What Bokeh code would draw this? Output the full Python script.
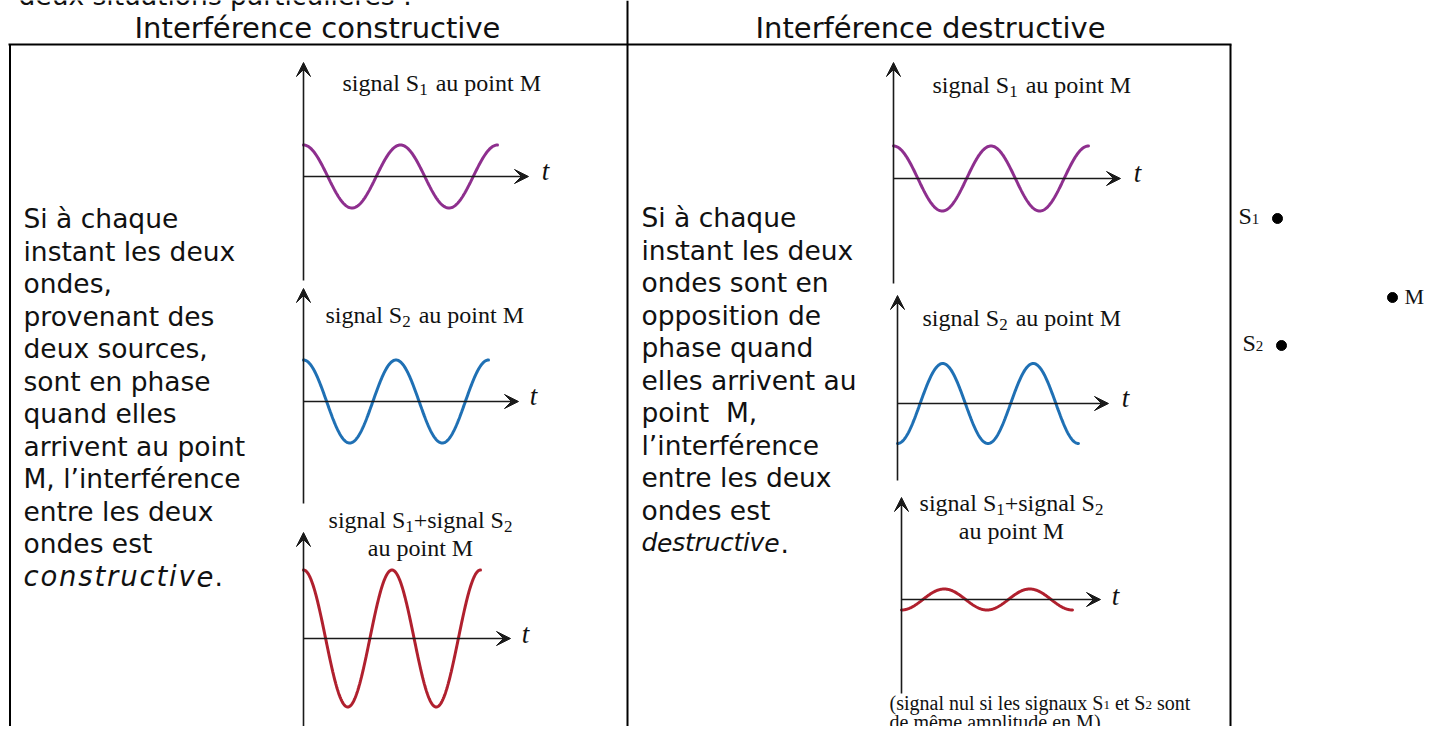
import numpy as np
from bokeh.plotting import figure
from bokeh.models import Range1d, Arrow, VeeHead, ColumnDataSource
from bokeh.core.properties import value, field
from bokeh.embed import file_html
from bokeh.resources import INLINE

# ------------------------------------------------------------------ data
intro_line = "deux situations particulières :"
section_titles = ["Interférence constructive", "Interférence destructive"]

constructive_lines = ["Si à chaque", "instant les deux", "ondes,", "provenant des",
                      "deux sources,", "sont en phase", "quand elles",
                      "arrivent au point", "M, l’interférence", "entre les deux",
                      "ondes est"]
constructive_word = "constructive"

destructive_lines = ["Si à chaque", "instant les deux", "ondes sont en",
                     "opposition de", "phase quand", "elles arrivent au",
                     "point\u00a0 M,", "l’interférence", "entre les deux", "ondes est"]
destructive_word = "destructive"

# six signals: constructive S1, S2, S1+S2 ; destructive S1, S2, S1+S2
signal_names = ["S1", "S2", "S1+S2", "S1", "S2", "S1+S2"]
signal_colors = ["#8E2F8E", "#1F70B4", "#B0202E", "#8E2F8E", "#1F70B4", "#B0202E"]
signal_amplitude = [31.5, 41.5, 68.5, 32.5, 40.0, 10.5]
signal_period = [97.0, 92.5, 88.5, 97.5, 90.5, 85.5]
signal_phase = [0.0, 0.0, 0.0, 0.0, 0.5, 0.5]      # fraction of a period
signal_cycles = [2, 2, 2, 2, 2, 2]

point_names = ["S1", "M", "S2"]

# ------------------------------------------------------------------ layout
W, H = 1425, 726
p = figure(width=W, height=H, output_backend="svg", toolbar_location=None,
           x_range=Range1d(0, W), y_range=Range1d(H, 0),
           min_border=0)
p.axis.visible = False
p.grid.visible = False
p.outline_line_color = None
p.background_fill_color = "white"
p.border_fill_color = "white"

SANS = value("DejaVu Sans")
SERIF = value("Liberation Serif")
INK = "#111111"
BODY = 26.5

# panel geometry (axis origin, extents, label anchor)
panels = [
    dict(ox=303, oy=176, vtop=62, vbot=280, htip=528, tx=545, ty=170, lx=342, ly=93),
    dict(ox=303, oy=401, vtop=288, vbot=503, htip=518, tx=533, ty=395, lx=325, ly=325),
    dict(ox=303, oy=638, vtop=532, vbot=745, htip=510, tx=525, ty=633, lx=420, ly=530),
    dict(ox=893, oy=178, vtop=62, vbot=283, htip=1120, tx=1137, ty=172, lx=932, ly=95),
    dict(ox=897, oy=403, vtop=295, vbot=480, htip=1108, tx=1125, ty=397, lx=922, ly=328),
    dict(ox=901, oy=599, vtop=497, vbot=693, htip=1100, tx=1115, ty=595, lx=1011, ly=513),
]

# Times / Liberation Serif advance widths (per 1000 em)
TIMES = {' ': 250, '(': 333, ')': 333, '+': 564, '1': 500, '2': 500, 'M': 889,
         'S': 556, 'a': 444, 'd': 500, 'e': 444, 'g': 500, 'i': 278, 'l': 278,
         'n': 500, 'o': 500, 'p': 500, 's': 389, 't': 278, 'u': 500, 'x': 500,
         'ê': 444, 'm': 778}
# DejaVu Sans advance widths (per 1000 em)
DEJAVU = {'c': 550, 'o': 612, 'n': 634, 's': 521, 't': 392, 'r': 411, 'u': 634,
          'i': 278, 'v': 592, 'e': 615, 'd': 635, '.': 318}


def tw(s, size):
    return sum(TIMES.get(c, 500) for c in s) * size / 1000.0


def rich(x, y, parts, align="left"):
    """parts: (text, size, dy, gap_after); y is the baseline of the main text."""
    corr = -0.42 * parts[0][1]
    total = sum(tw(t, s) + g for t, s, dy, g in parts)
    if align == "center":
        x -= total / 2.0
    xs, ys, ts, ss = [], [], [], []
    for t, s, dy, g in parts:
        lead = len(t) - len(t.lstrip(" "))
        xs.append(x + tw(" " * lead, s)); ys.append(y + dy + corr)
        ts.append(t.strip(" ")); ss.append(f"{s}px")
        x += tw(t, s) + g
    src = ColumnDataSource(dict(x=xs, y=ys, text=ts, size=ss))
    p.text(x="x", y="y", text="text", source=src, text_font=SERIF,
           text_font_size=field("size"), text_baseline="alphabetic",
           text_align="left", text_color=INK)


def spaced(x, y, word, size, width):
    """italic word whose letters are spread over a given width"""
    nat = [DEJAVU.get(c, 600) * size / 1000.0 for c in word]
    extra = (width - sum(nat)) / max(len(word) - 1, 1)
    xs, cur = [], x
    for w in nat:
        xs.append(cur)
        cur += w + extra
    p.text(x=xs, y=[y] * len(word), text=list(word), text_font=SANS,
           text_font_size=f"{size}px", text_font_style="italic",
           text_baseline="middle", text_color=INK)
    return cur - extra


FS, SS, SD = 24, 17, 6   # label size, subscript size, subscript drop


def sig_parts(n, gap):
    return [("signal S", FS, 0, 0), (n, SS, SD, gap)]


# ------------------------------------------------------------------ table frame
frame = ColumnDataSource(dict(
    x0=[8, 9.5, 627, 1230], y0=[44, 44, 0, 44],
    x1=[1231, 9.5, 627, 1230], y1=[44, 745, 745, 745]))
p.segment(x0="x0", y0="y0", x1="x1", y1="y1", source=frame,
          line_color="black", line_width=2)

p.text(x=[18], y=[-5], text=[intro_line], text_font=SANS,
       text_font_size=f"{BODY}px", text_baseline="middle", text_color=INK)
p.text(x=[317, 930], y=[27, 27], text=section_titles, text_font=SANS,
       text_font_size="29px", text_align="center", text_baseline="middle",
       text_color=INK)


# body text
def body(x, y0, lines):
    ys = [y0 + 32.5 * i for i in range(len(lines))]
    p.text(x=[x] * len(lines), y=ys, text=lines, text_font=SANS,
           text_font_size=f"{BODY}px", text_baseline="middle", text_color=INK)
    return y0 + 32.5 * len(lines)


yc = body(23, 218, constructive_lines)
end = spaced(23, yc, constructive_word, 27.5, 190)
p.text(x=[end + 1], y=[yc], text=["."], text_font=SANS, text_font_size=f"{BODY}px",
       text_baseline="middle", text_color=INK)

yd = body(641, 217, destructive_lines)
end = spaced(641, yd, destructive_word, 25, 138)
p.text(x=[end + 1], y=[yd], text=["."], text_font=SANS, text_font_size=f"{BODY}px",
       text_baseline="middle", text_color=INK)

# ------------------------------------------------------------------ wave panels
arrows = dict(xs=[], ys=[], xe=[], ye=[])
for i, pn in enumerate(panels):
    arrows["xs"] += [pn["ox"], pn["ox"]]
    arrows["ys"] += [pn["vbot"], pn["oy"]]
    arrows["xe"] += [pn["ox"], pn["htip"]]
    arrows["ye"] += [pn["vtop"], pn["oy"]]

    per = signal_period[i]
    t = np.linspace(0, signal_cycles[i] * per, 400)
    yv = signal_amplitude[i] * np.cos(2 * np.pi * (t / per + signal_phase[i]))
    p.line(pn["ox"] + t, pn["oy"] - yv, line_color=signal_colors[i],
           line_width=3, line_cap="round")

    p.text(x=[pn["tx"]], y=[pn["ty"]], text=["t"], text_font=SERIF,
           text_font_size="27px", text_font_style="italic",
           text_align="center", text_baseline="middle", text_color=INK)

    name = signal_names[i]
    if name == "S1+S2":
        parts = sig_parts("1", 0) + [("+", FS, 0, 0)] + sig_parts("2", 0)
        rich(pn["lx"], pn["ly"], parts, align="center")
        rich(pn["lx"], pn["ly"] + 28, [("au point M", FS, 0, 0)], align="center")
    else:
        parts = sig_parts(name[1], 8) + [("au point M", FS, 0, 0)]
        rich(pn["lx"], pn["ly"], parts)

asrc = ColumnDataSource(arrows)
p.add_layout(Arrow(x_start="xs", y_start="ys", x_end="xe", y_end="ye", source=asrc,
                   line_color="#1a1a1a", line_width=1.6,
                   end=VeeHead(size=14, fill_color="#1a1a1a", line_color="#1a1a1a")))

# note under destructive sum
NS, NSS = 20, 13
rich(889, 711, [("(signal nul si les signaux S", NS, 0, 0), ("1", NSS, 2, 0),
                (" et S", NS, 0, 0), ("2", NSS, 2, 0), (" sont", NS, 0, 0)])
rich(889, 730, [("de même amplitude en M)", NS, 0, 0)])

# ------------------------------------------------------------------ sources sketch
pts = dict(S1=(1277, 218), M=(1392, 297), S2=(1281, 345))
p.scatter(x=[pts[n][0] for n in point_names], y=[pts[n][1] for n in point_names],
          size=10, color="black")
rich(1238, 226, [("S", 24, 0, 0), ("1", 15, 3, 0)])
rich(1242, 353, [("S", 24, 0, 0), ("2", 15, 3, 0)])
rich(1404, 305, [("M", 22, 0, 0)])

open("out.html", "w").write(file_html(p, INLINE))
